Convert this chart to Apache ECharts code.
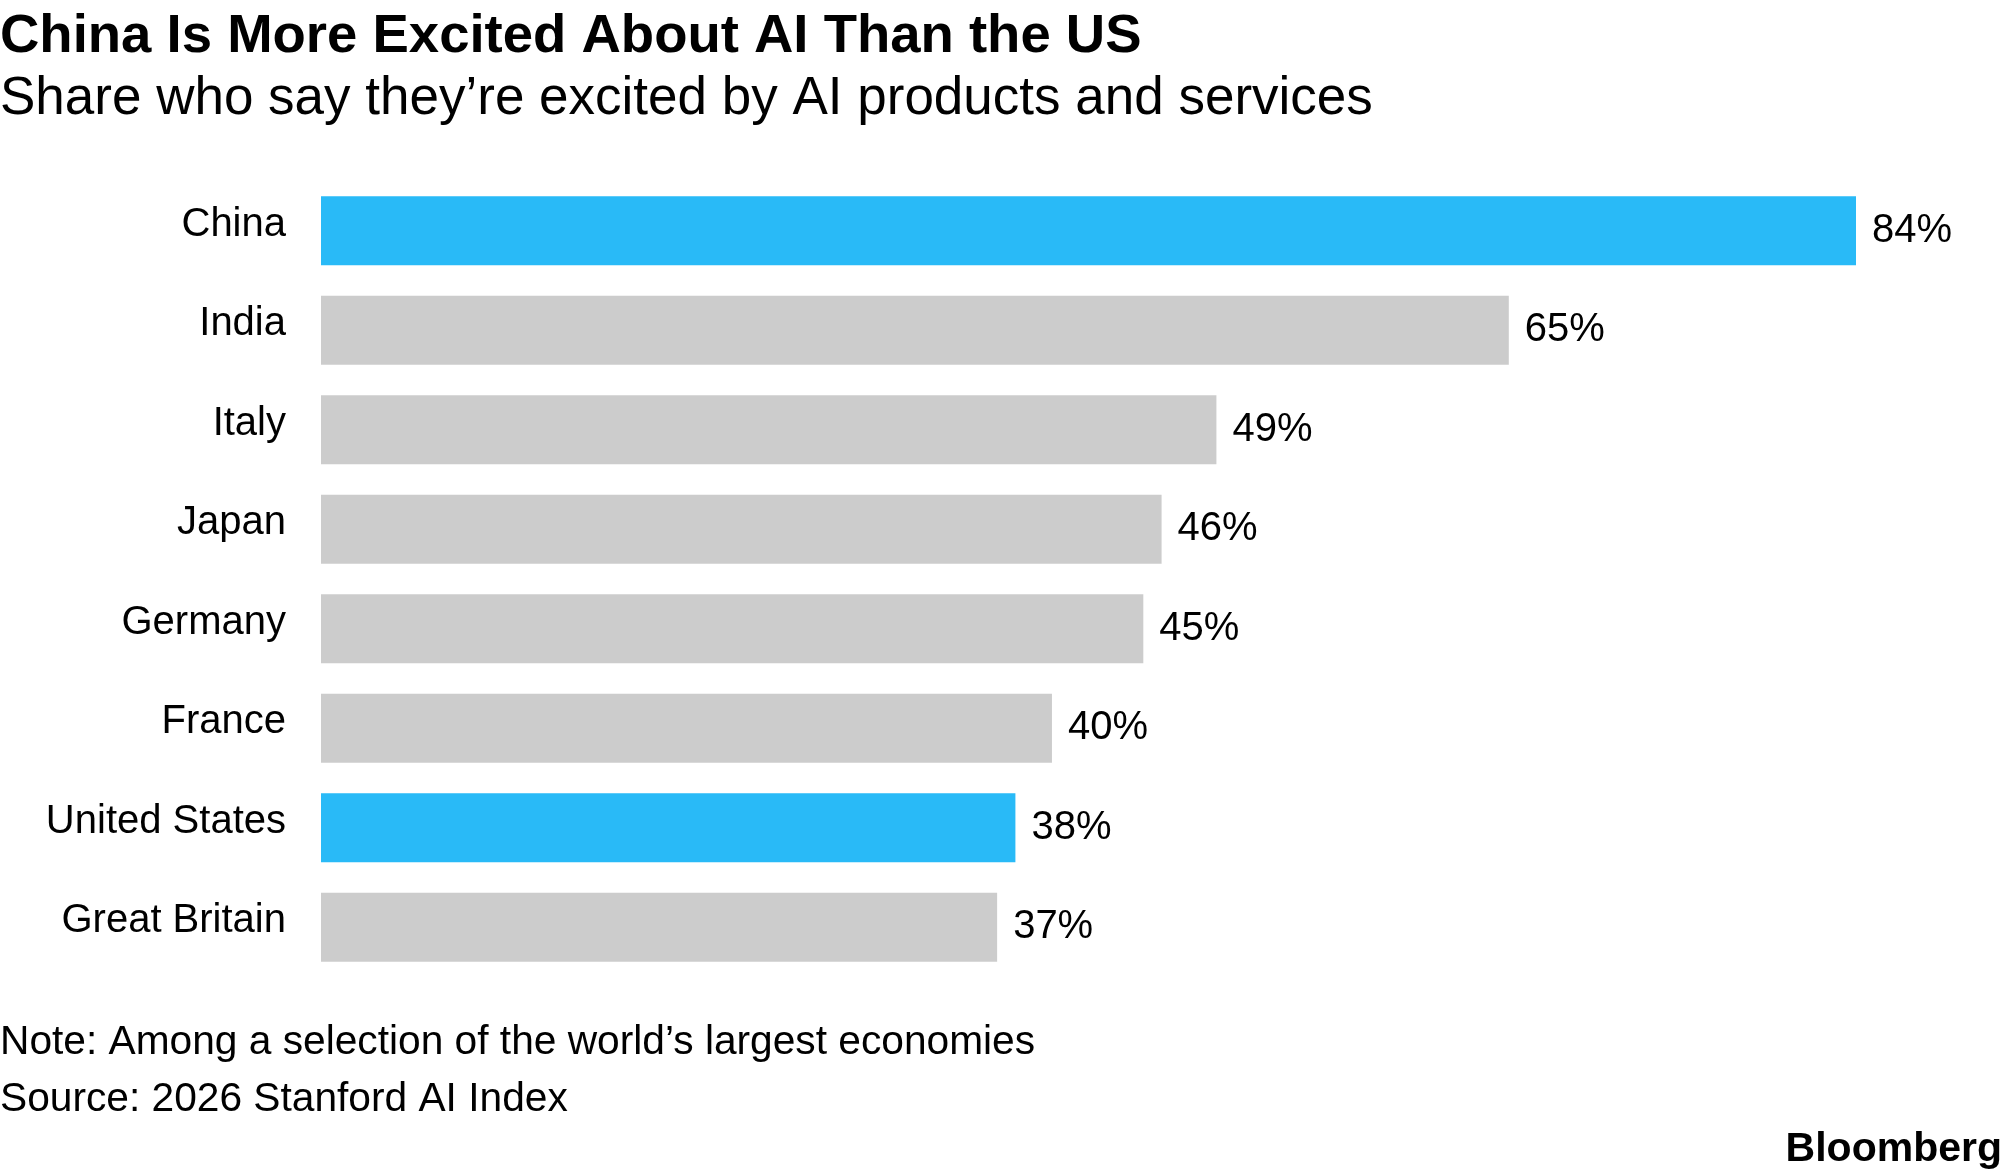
<!DOCTYPE html>
<html>
<head>
<meta charset="utf-8">
<script src="https://cdn.jsdelivr.net/npm/echarts@6/dist/echarts.min.js"></script>
<style>
  html, body { margin: 0; padding: 0; background: #fff; }
  #main { width: 2004px; height: 1176px; }
</style>
</head>
<body>
<div id="main"></div>
<script>
var countries = ['China', 'India', 'Italy', 'Japan', 'Germany', 'France', 'United States', 'Great Britain'];
var excited = [84, 65, 49, 46, 45, 40, 38, 37];
var highlighted = ['China', 'United States'];

var font = '"Liberation Sans", Arial, sans-serif';
var blue = '#29baf7';
var grey = '#cccccc';

var barData = [];
for (var i = 0; i < countries.length; i++) {
    barData.push({
        value: excited[i],
        itemStyle: { color: highlighted.indexOf(countries[i]) >= 0 ? blue : grey }
    });
}

var myChart = echarts.init(document.getElementById('main'));
myChart.setOption({
    backgroundColor: '#ffffff',
    animation: false,
    title: [
        {
            text: 'China Is More Excited About AI Than the US',
            left: 0, top: 9, padding: 0,
            textStyle: { fontFamily: font, fontWeight: 'bold', fontSize: 54.5, color: '#000' }
        },
        {
            text: 'Share who say they\u2019re excited by AI products and services',
            left: 0, top: 73, padding: 0,
            textStyle: { fontFamily: font, fontWeight: 'normal', fontSize: 53, color: '#000' }
        },
        {
            text: 'Note: Among a selection of the world\u2019s largest economies',
            left: 0, top: 1022, padding: 0,
            textStyle: { fontFamily: font, fontWeight: 'normal', fontSize: 40.7, color: '#000' }
        },
        {
            text: 'Source: 2026 Stanford AI Index',
            left: 0, top: 1079, padding: 0,
            textStyle: { fontFamily: font, fontWeight: 'normal', fontSize: 40.7, color: '#000' }
        },
        {
            text: 'Bloomberg',
            right: 2, top: 1129, padding: 0,
            textStyle: { fontFamily: font, fontWeight: 'bold', fontSize: 41, color: '#000' }
        }
    ],
    grid: { left: 321, right: 148, top: 181, bottom: 199 },
    xAxis: {
        type: 'value',
        min: 0,
        max: 84,
        show: false
    },
    yAxis: {
        type: 'category',
        data: countries,
        inverse: true,
        axisLine: { show: false },
        axisTick: { show: false },
        splitLine: { show: false },
        axisLabel: {
            margin: 35,
            fontFamily: font,
            fontSize: 40,
            color: '#000',
            verticalAlign: 'bottom',
            lineHeight: 12
        }
    },
    series: [{
        type: 'bar',
        data: barData,
        barWidth: 69,
        label: {
            show: true,
            position: 'right',
            distance: 16,
            formatter: '{c}%',
            fontFamily: font,
            fontSize: 40,
            color: '#000'
        }
    }]
});
</script>
</body>
</html>
